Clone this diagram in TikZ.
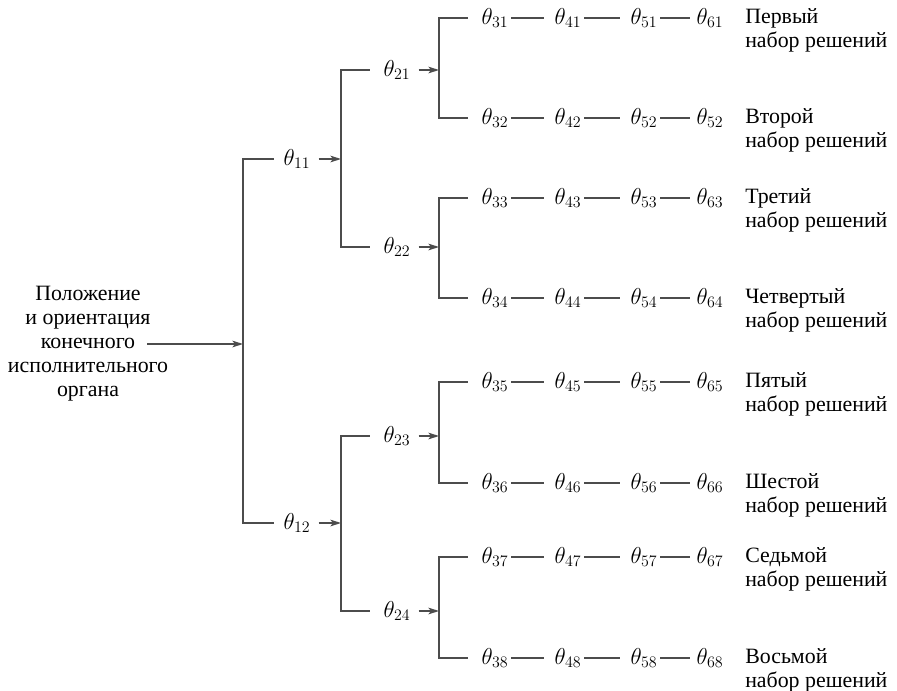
\documentclass[tikz,border=0pt]{standalone}
\usepackage{fontspec}
\setmainfont{Liberation Serif}
\usetikzlibrary{arrows.meta}
\begin{document}
\begin{tikzpicture}[x=0.75pt,y=-0.75pt,
    line/.style={draw=black!70,line width=0.9pt},
    arr/.style={line,-{Stealth[length=8pt,width=5pt,inset=2pt]}},
    th/.style={inner sep=2pt,font=\fontsize{17}{18}\selectfont},
    sol/.style={anchor=west,align=left,inner sep=0pt,font=\fontsize{16.4}{18}\selectfont}]
    \useasboundingbox (0,0) rectangle (897,690);
    % input
    \node[align=center,font=\fontsize{16.4}{18}\selectfont] (pos) at (88,344)
        {Положение\\и ориентация\\конечного\\исполнительного\\органа};
    \coordinate (in) at (147,344);
    \coordinate (b1) at (243,344);
    \coordinate (b2) at (341,159);
    \coordinate (b3) at (341,523);
    \draw[arr] (in) -- (b1);
    % first joint
    \node[th] (t11) at (297,159) {$\theta_{11}$};
    \node[th] (t12) at (297,523) {$\theta_{12}$};
    \draw[line,shorten <=5pt,shorten >=5pt] (t11.west) -| (b1) |- (t12.west);
    \draw[arr,shorten <=4pt] (t11) -- (b2);
    \draw[arr,shorten <=4pt] (t12) -- (b3);
    % second joint
    \foreach \j/\y in {1/70,2/247,3/436,4/611}{
        \node[th] (t2\j) at (397,\y) {$\theta_{2\j}$};
        \coordinate (c\j) at (439,\y);
        \draw[arr,shorten <=4pt] (t2\j) -- (c\j);
    }
    \draw[line,shorten <=8pt,shorten >=8pt] (t21.west) -| (b2) |- (t22.west);
    \draw[line,shorten <=8pt,shorten >=8pt] (t23.west) -| (b3) |- (t24.west);
    % joints 3 to 6
    \foreach \k/\y/\last/\lbl in {1/18/61/Первый,2/118/52/Второй,3/198/63/Третий,
        4/298/64/Четвертый,5/382/65/Пятый,6/483/66/Шестой,7/557/67/Седьмой,8/658/68/Восьмой}{
        \node[th] (t3\k) at (495,\y) {$\theta_{3\k}$};
        \node[th] (t4\k) at (568,\y) {$\theta_{4\k}$};
        \node[th] (t5\k) at (644,\y) {$\theta_{5\k}$};
        \node[th] (t6\k) at (710,\y) {$\theta_{\last}$};
        \node[sol] (s\k) at (745,\y+12) {\lbl\\набор решений};
        \draw[line,shorten >=6pt] (t3\k) -- (t4\k);
        \draw[line,shorten >=6pt] (t4\k) -- (t5\k);
        \draw[line,shorten >=3pt] (t5\k) -- (t6\k);
    }
    \foreach \j/\a/\b in {1/1/2,2/3/4,3/5/6,4/7/8}
        \draw[line,shorten <=8pt,shorten >=8pt] (t3\a.west) -| (c\j) |- (t3\b.west);
\end{tikzpicture}
\end{document}
